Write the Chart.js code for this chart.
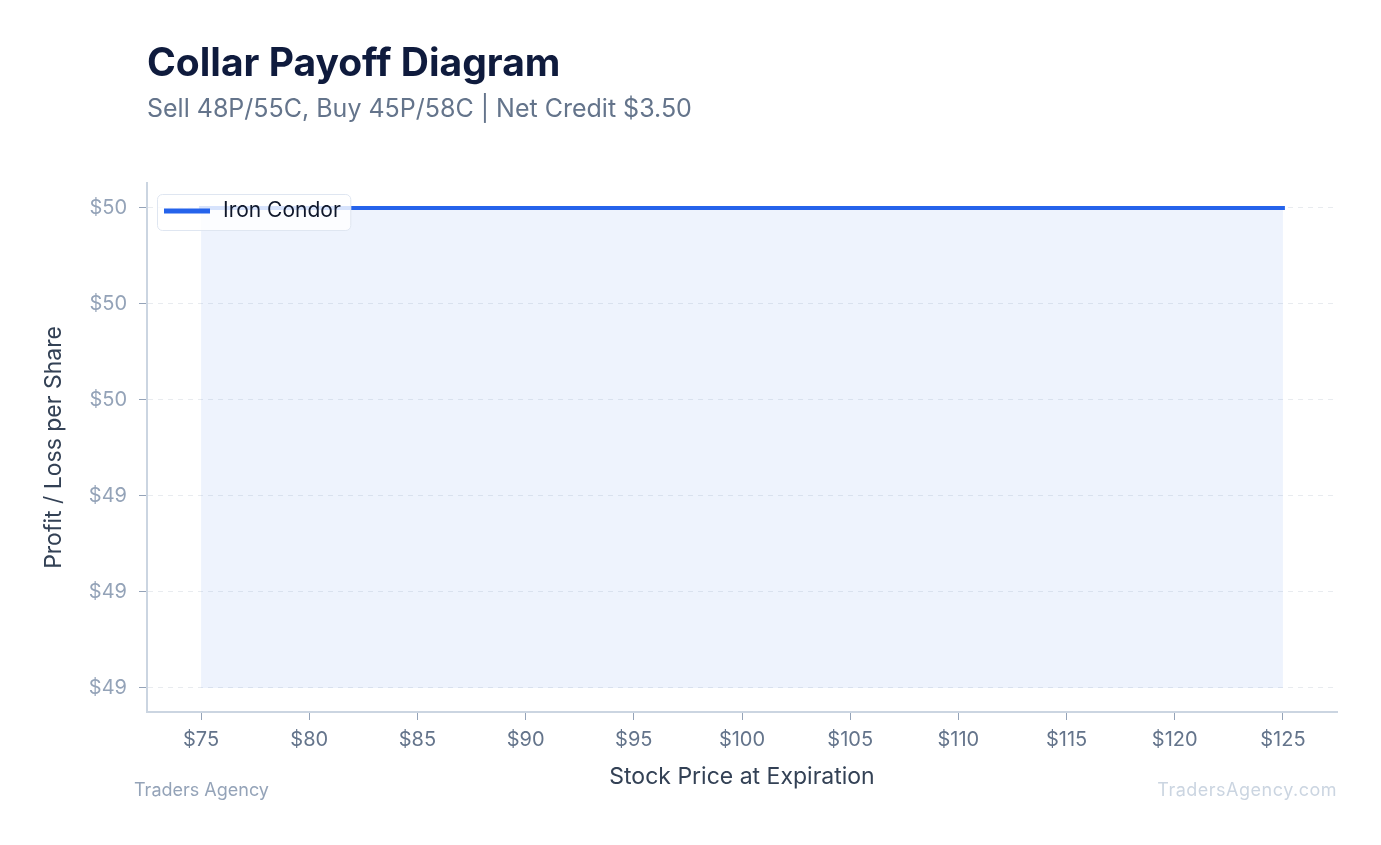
<!DOCTYPE html>
<html>
<head>
<meta charset="utf-8">
<script src="https://cdn.jsdelivr.net/npm/chart.js@4.4.1/dist/chart.umd.min.js"></script>
<style>
    html, body { margin: 0; padding: 0; background: #ffffff; }
    body { width: 1381px; height: 845px; position: relative; overflow: hidden; font-family: Inter, "Noto Sans", sans-serif; }
    #wrap { position: absolute; left: 0; top: 0; width: 1381px; height: 845px; }
    .title { position: absolute; left: 147px; top: 42px; font-size: 39px; line-height: 1; font-weight: 700; color: #0f1b3d; white-space: nowrap; }
    .subtitle { position: absolute; left: 147px; top: 96px; font-size: 25px; line-height: 1; color: #64748b; white-space: nowrap; }
    .foot { position: absolute; top: 781px; font-size: 18px; line-height: 1; white-space: nowrap; }
    .foot.left { left: 134px; color: #94a3b8; }
    .foot.right { right: 44px; color: #cbd5e1; letter-spacing: 0.5px; }
</style>
</head>
<body>
<div id="wrap"><canvas id="payoffChart" width="1381" height="845"></canvas></div>
<div class="title">Collar Payoff Diagram</div>
<div class="subtitle">Sell 48P/55C, Buy 45P/58C | Net Credit $3.50</div>
<div class="foot left">Traders Agency</div>
<div class="foot right">TradersAgency.com</div>
<script>
// stock prices at expiration and P/L per share (flat line in the picture)
const prices = [75, 80, 85, 90, 95, 100, 105, 110, 115, 120, 125];
const payoff = [50, 50, 50, 50, 50, 50, 50, 50, 50, 50, 50];

const xTicks = [75, 80, 85, 90, 95, 100, 105, 110, 115, 120, 125];
const yTicks = [49, 49.2, 49.4, 49.6, 49.8, 50];
const yTickLabels = ['$49', '$49', '$49', '$50', '$50', '$50'];

const lineColor = '#2563eb';

// legend box in the top-left corner of the plot, drawn over the line
const legendBox = {
    id: 'legendBox',
    afterDatasetsDraw(chart) {
        const ds = chart.data.datasets[0];
        const area = chart.chartArea;
        const ctx = chart.ctx;
        ctx.save();
        ctx.font = '21px Inter';
        const textX = area.left + 76;
        const midY = area.top + 28;
        const textW = ctx.measureText(ds.label).width;

        ctx.beginPath();
        ctx.roundRect(area.left + 10.5, area.top + 11.5, textX + textW + 10 - (area.left + 10.5), 36, 5);
        ctx.fillStyle = 'rgba(255,255,255,0.82)';
        ctx.fill();
        ctx.strokeStyle = '#dfe6f1';
        ctx.lineWidth = 1;
        ctx.stroke();

        ctx.beginPath();
        ctx.moveTo(area.left + 17, midY);
        ctx.lineTo(area.left + 63, midY);
        ctx.strokeStyle = ds.borderColor;
        ctx.lineWidth = 5;
        ctx.stroke();

        ctx.fillStyle = '#0f172a';
        ctx.textBaseline = 'middle';
        ctx.fillText(ds.label, textX, midY);
        ctx.restore();
    }
};

function createPayoffChart() {
    const ctx = document.getElementById('payoffChart').getContext('2d');
    new Chart(ctx, {
        type: 'line',
        data: {
            datasets: [{
                label: 'Iron Condor',
                data: prices.map((p, i) => ({ x: p, y: payoff[i] })),
                borderColor: lineColor,
                backgroundColor: 'rgba(37, 99, 235, 0.08)',
                borderWidth: 4,
                borderCapStyle: 'square',
                pointRadius: 0,
                tension: 0,
                fill: { target: { value: 49 } }
            }]
        },
        options: {
            responsive: false,
            animation: false,
            devicePixelRatio: 1,
            layout: { padding: { top: 183, right: 44, bottom: 54, left: 0 } },
            plugins: {
                title: { display: false },
                tooltip: { enabled: false },
                legend: { display: false }
            },
            scales: {
                x: {
                    type: 'linear',
                    min: 72.5,
                    max: 127.5,
                    afterBuildTicks: (axis) => { axis.ticks = xTicks.map(v => ({ value: v })); },
                    afterFit: (axis) => { axis.height = 79; },
                    ticks: {
                        padding: 8,
                        color: '#64748b',
                        font: { family: 'Inter', size: 20 },
                        callback: (v) => '$' + v
                    },
                    grid: {
                        drawOnChartArea: false,
                        tickLength: 8,
                        tickColor: '#94a3b8'
                    },
                    border: { color: '#cbd5e1', width: 2 },
                    title: {
                        display: true,
                        text: 'Stock Price at Expiration',
                        color: '#334155',
                        font: { family: 'Inter', size: 23 },
                        padding: { top: 8, bottom: 0 }
                    }
                },
                y: {
                    min: 48.95,
                    max: 50.052,
                    afterBuildTicks: (axis) => { axis.ticks = yTicks.map(v => ({ value: v })); },
                    afterFit: (axis) => { axis.width = 147; },
                    ticks: {
                        padding: 12,
                        color: '#94a3b8',
                        font: { family: 'Inter', size: 20 },
                        callback: (v, i) => yTickLabels[i]
                    },
                    grid: {
                        color: 'rgba(148, 163, 184, 0.22)',
                        tickLength: 8,
                        tickColor: '#94a3b8',
                        tickBorderDash: []
                    },
                    border: { color: '#cbd5e1', width: 2, dash: [5, 5] },
                    title: {
                        display: true,
                        text: 'Profit / Loss per Share',
                        color: '#334155',
                        font: { family: 'Inter', size: 23 },
                        padding: { top: 40, bottom: 0 }
                    }
                }
            }
        },
        plugins: [legendBox]
    });
}

document.addEventListener('DOMContentLoaded', createPayoffChart);
</script>
</body>
</html>
